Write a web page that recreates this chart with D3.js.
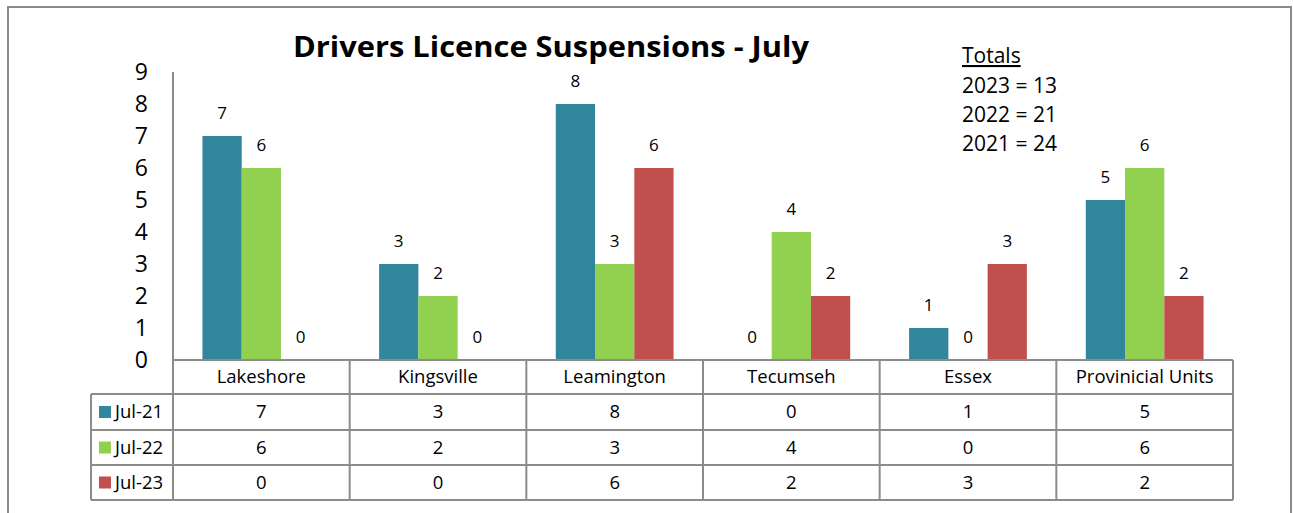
<!DOCTYPE html>
<html><head><meta charset="utf-8">
<script src="https://cdn.jsdelivr.net/npm/d3@7"></script>
<style>
html,body{margin:0;padding:0;background:#fff;}
svg{display:block;font-family:"Open Sans",Lato,sans-serif;}
</style></head>
<body>
<svg id="chart" width="1293" height="513"></svg>
<script>
const categories = ["Lakeshore","Kingsville","Leamington","Tecumseh","Essex","Provinicial Units"];
const seriesNames = ["Jul-21","Jul-22","Jul-23"];
const jul21 = [7,3,8,0,1,5];
const jul22 = [6,2,3,4,0,6];
const jul23 = [0,0,6,2,3,2];
const seriesValues = [jul21, jul22, jul23];
const colors = ["#31859C","#92D050","#C0504D"];
const yTicks = [0,1,2,3,4,5,6,7,8,9];
const title = "Drivers Licence Suspensions - July";
const totalsHeader = "Totals";
const totalsLines = ["2023 = 13","2022 = 21","2021 = 24"];

const svg = d3.select("#chart");
const grid = "#8c8c8c";

// outer frame
svg.append("path").attr("d","M8,520 L8,7 L1291,7 L1291,520")
  .attr("fill","none").attr("stroke",grid).attr("stroke-width",2);

const plotL = 173, plotR = 1233, base = 360;
const y = d3.scaleLinear().domain([0,9]).range([base,72]);
const x0 = d3.scaleBand().domain(categories).range([plotL,plotR]).padding(0);
const step = x0.bandwidth();
const groupW = step*3/4.5;
const x1 = d3.scaleBand().domain(seriesNames).range([(step-groupW)/2,(step+groupW)/2]).padding(0);

// title
svg.append("text").attr("x",551).attr("y",57).attr("text-anchor","middle")
  .attr("font-weight","bold").attr("font-size",28).attr("fill","#000")
  .attr("textLength",516).attr("lengthAdjust","spacingAndGlyphs").text(title);

// totals
const tg = svg.append("g").attr("font-size",21).attr("fill","#000");
tg.append("text").attr("x",962).attr("y",63).attr("text-decoration","underline").text(totalsHeader);
totalsLines.forEach((t,i)=>tg.append("text").attr("x",962).attr("y",93+i*29).text(t));

// y axis labels
svg.append("g").selectAll("text").data(yTicks).join("text")
  .attr("x",148).attr("y",d=>y(d)).attr("dy","0.35em").attr("text-anchor","end")
  .attr("font-size",23).attr("fill","#000").text(d=>d);

// bars
const bars = [];
categories.forEach((c,ci)=>seriesNames.forEach((s,si)=>bars.push({c,s,si,v:seriesValues[si][ci]})));
svg.append("g").selectAll("rect").data(bars.filter(d=>d.v>0)).join("rect")
  .attr("x",d=>x0(d.c)+x1(d.s)).attr("width",x1.bandwidth())
  .attr("y",d=>y(d.v)).attr("height",d=>base-y(d.v))
  .attr("fill",d=>colors[d.si]);
svg.append("g").selectAll("text").data(bars).join("text")
  .attr("x",d=>x0(d.c)+x1(d.s)+x1.bandwidth()/2).attr("y",d=>y(d.v)-23).attr("dy","0.35em")
  .attr("text-anchor","middle").attr("font-size",17).attr("fill","#000").text(d=>d.v);

// axis line
svg.append("line").attr("x1",plotL).attr("x2",plotL).attr("y1",72).attr("y2",500)
  .attr("stroke",grid).attr("stroke-width",2);

// data table
const rowY = [360,394,430,465,500];
const legL = 91;
const tbl = svg.append("g").attr("stroke",grid).attr("stroke-width",2);
tbl.append("line").attr("x1",plotL).attr("x2",plotR).attr("y1",rowY[0]).attr("y2",rowY[0]);
rowY.slice(1).forEach(yy=>tbl.append("line").attr("x1",legL).attr("x2",plotR).attr("y1",yy).attr("y2",yy));
tbl.append("line").attr("x1",legL).attr("x2",legL).attr("y1",rowY[1]).attr("y2",rowY[4]);
categories.forEach(c=>{
  const xx = x0(c)+step;
  tbl.append("line").attr("x1",xx).attr("x2",xx).attr("y1",rowY[0]).attr("y2",rowY[4]);
});

const tt = svg.append("g").attr("font-size",18.5).attr("fill","#000");
tt.selectAll(".hdr").data(categories).join("text").attr("class","hdr")
  .attr("x",c=>x0(c)+step/2).attr("y",(rowY[0]+rowY[1])/2).attr("dy","0.35em")
  .attr("text-anchor","middle").text(c=>c);
seriesNames.forEach((s,si)=>{
  const cy = (rowY[si+1]+rowY[si+2])/2;
  svg.append("rect").attr("x",99).attr("y",cy-6).attr("width",12).attr("height",12).attr("fill",colors[si]);
  tt.append("text").attr("x",115).attr("y",cy).attr("dy","0.35em").text(s);
  tt.selectAll(".v"+si).data(categories).join("text").attr("class","v"+si)
    .attr("x",c=>x0(c)+step/2).attr("y",cy).attr("dy","0.35em").attr("text-anchor","middle")
    .text((c,ci)=>seriesValues[si][ci]);
});
</script>
</body></html>
